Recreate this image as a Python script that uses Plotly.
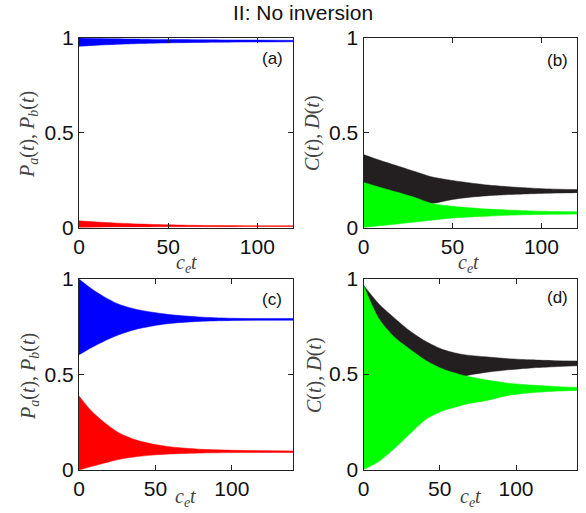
import plotly.graph_objects as go

# ---------------- data (envelopes of the fast oscillations) -------------
# panel (a)
t_a = [0, 10, 20, 35, 55, 80, 100, 120]
pb_a_upper = [1.0, 0.998, 0.996, 0.994, 0.992, 0.990, 0.989, 0.988]
pb_a_lower = [0.956, 0.962, 0.966, 0.971, 0.975, 0.978, 0.979, 0.980]
pa_a_upper = [0.035, 0.029, 0.024, 0.018, 0.013, 0.010, 0.009, 0.009]
pa_a_lower = [0.0, 0.001, 0.002, 0.003, 0.004, 0.004, 0.005, 0.005]

# panel (b)
t_b = [0, 10, 20, 30, 38, 50, 60, 70, 80, 90, 100, 110, 120]
c_b_upper = [0.385, 0.352, 0.322, 0.292, 0.268, 0.248, 0.235, 0.224, 0.216, 0.210, 0.205, 0.202, 0.200]
c_b_lower = [0.200, 0.180, 0.160, 0.140, 0.127, 0.148, 0.160, 0.168, 0.173, 0.177, 0.180, 0.182, 0.184]
d_b_upper = [0.238, 0.210, 0.183, 0.155, 0.128, 0.112, 0.104, 0.097, 0.093, 0.089, 0.086, 0.084, 0.083]
d_b_lower = [0.0, 0.010, 0.020, 0.030, 0.038, 0.050, 0.056, 0.060, 0.064, 0.067, 0.069, 0.070, 0.071]

# panel (c)
t_c = [0, 8, 16, 26, 37, 48, 59, 70, 81, 103, 140]
pb_c_upper = [1.0, 0.950, 0.909, 0.868, 0.842, 0.826, 0.814, 0.806, 0.800, 0.794, 0.793]
pb_c_lower = [0.603, 0.640, 0.673, 0.708, 0.736, 0.754, 0.767, 0.774, 0.779, 0.783, 0.784]
pa_c_upper = [0.388, 0.310, 0.253, 0.195, 0.158, 0.136, 0.122, 0.114, 0.108, 0.103, 0.100]
pa_c_lower = [0.0, 0.018, 0.035, 0.055, 0.069, 0.078, 0.084, 0.087, 0.089, 0.091, 0.092]

# panel (d)
t_d = [0, 10, 20, 30, 41, 52, 63, 67, 80, 95, 110, 125, 140]
c_d_upper = [0.965, 0.868, 0.795, 0.728, 0.670, 0.628, 0.605, 0.600, 0.590, 0.580, 0.574, 0.570, 0.568]
c_d_lower = [0.930, 0.760, 0.665, 0.600, 0.540, 0.500, 0.475, 0.490, 0.508, 0.522, 0.532, 0.538, 0.543]
d_d_upper = [0.965, 0.790, 0.695, 0.632, 0.570, 0.526, 0.498, 0.490, 0.470, 0.452, 0.442, 0.435, 0.430]
d_d_lower = [0.0, 0.042, 0.108, 0.183, 0.263, 0.307, 0.333, 0.342, 0.360, 0.388, 0.402, 0.410, 0.414]

x_ticks = [0, 50, 100]
y_ticks = [0, 0.5, 1]
y_tick_text = ["0", "0.5", "1"]
x_max = [120, 120, 140, 140]

BLUE = "rgb(0,0,255)"
RED = "rgb(255,0,0)"
BLACK = "rgb(35,31,32)"
GREEN = "rgb(0,255,0)"

fig = go.Figure()


def band(t, upper, lower, color, ax):
    xa = "x" + ("" if ax == 1 else str(ax))
    ya = "y" + ("" if ax == 1 else str(ax))
    fig.add_trace(go.Scatter(
        x=t, y=lower, mode="lines", line=dict(width=0.5, color=color, shape="spline", smoothing=0.8),
        hoverinfo="skip", showlegend=False, xaxis=xa, yaxis=ya))
    fig.add_trace(go.Scatter(
        x=t, y=upper, mode="lines", fill="tonexty", fillcolor=color,
        line=dict(width=0.5, color=color, shape="spline", smoothing=0.8),
        hoverinfo="skip", showlegend=False, xaxis=xa, yaxis=ya))


band(t_a, pb_a_upper, pb_a_lower, BLUE, 1)
band(t_a, pa_a_upper, pa_a_lower, RED, 1)
band(t_b, c_b_upper, c_b_lower, BLACK, 2)
band(t_b, d_b_upper, d_b_lower, GREEN, 2)
band(t_c, pb_c_upper, pb_c_lower, BLUE, 3)
band(t_c, pa_c_upper, pa_c_lower, RED, 3)
band(t_d, c_d_upper, c_d_lower, BLACK, 4)
band(t_d, d_d_upper, d_d_lower, GREEN, 4)

W, H = 586, 513
# pixel boxes of each panel: left, right, top, bottom
boxes = [(79, 293, 38, 227.5), (363.5, 577, 38, 227.5), (79, 293, 279, 470), (363.5, 577, 278.5, 469.5)]

tickfont = dict(family="Liberation Sans, Arial, sans-serif", size=21, color="#111")
axis_common = dict(
    showline=True, linecolor="#222", linewidth=1, mirror="ticks",
    ticks="inside", ticklen=5, tickwidth=1, tickcolor="#222",
    showgrid=False, zeroline=False, tickfont=tickfont,
)

layout = dict(width=W, height=H, margin=dict(l=0, r=0, t=0, b=0, autoexpand=False),
              plot_bgcolor="white", paper_bgcolor="white", showlegend=False)
for i, (l, r, tp, bt) in enumerate(boxes):
    k = "" if i == 0 else str(i + 1)
    layout["xaxis" + k] = dict(domain=[l / W, r / W], range=[0, x_max[i]],
                               anchor="y" + k, tickvals=x_ticks, **axis_common)
    layout["yaxis" + k] = dict(domain=[1 - bt / H, 1 - tp / H], range=[0, 1],
                               anchor="x" + k, tickvals=y_ticks, ticktext=y_tick_text,
                               **axis_common)
fig.update_layout(**layout)

serif = dict(family="Liberation Serif, Times New Roman, serif", size=20, color="#444")
ylab_ab = "<i>P</i><sub><i>a</i></sub>(<i>t</i>), <i>P</i><sub><i>b</i></sub>(<i>t</i>)"
ylab_cd = "<i>C</i>(<i>t</i>), <i>D</i>(<i>t</i>)"
xlab = "<i>c</i><sub><i>e</i></sub><i>t</i>"

common_ann = dict(xref="paper", yref="paper", showarrow=False, xanchor="center", yanchor="middle")
ann = []
ann.append(dict(x=303 / W, y=1 - 12 / H, text="II: No inversion",
                font=dict(family="Liberation Sans, Arial, sans-serif", size=21, color="#111"), **common_ann))
for (px, py, txt) in [(29, 135, ylab_ab), (312, 133, ylab_cd), (29, 377, ylab_ab), (314, 375, ylab_cd)]:
    ann.append(dict(x=px / W, y=1 - py / H, text=txt, textangle=-90, font=serif, **common_ann))
for (px, py) in [(186, 263), (468, 263), (185, 497), (470, 497)]:
    ann.append(dict(x=px / W, y=1 - py / H, text=xlab, font=serif, **common_ann))
for (px, py, txt) in [(272, 59, "(a)"), (557, 60, "(b)"), (272, 299, "(c)"), (557, 297, "(d)")]:
    ann.append(dict(x=px / W, y=1 - py / H, text=txt,
                    font=dict(family="Liberation Sans, Arial, sans-serif", size=17, color="#111"), **common_ann))
fig.update_layout(annotations=ann)

fig.write_html("out.html", post_script="document.body.style.margin='0px';")
